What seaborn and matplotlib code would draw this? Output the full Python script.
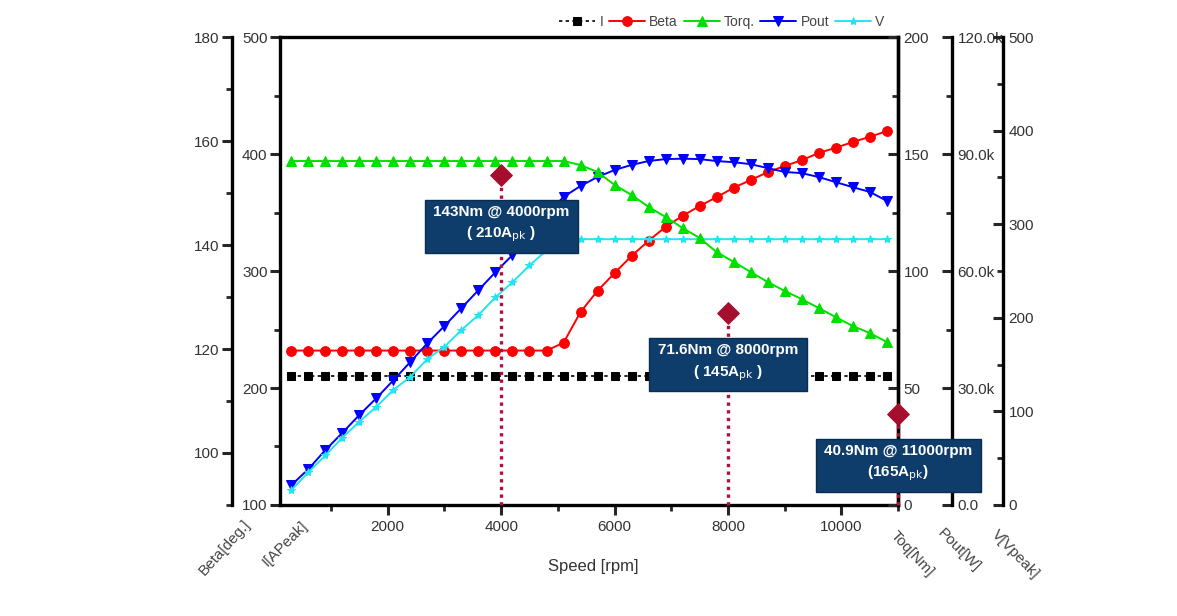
import pandas as pd
import seaborn as sns
import matplotlib.pyplot as plt
from matplotlib.ticker import MultipleLocator, FuncFormatter

# Kennlinien (Drehzahl in rpm)
speed = [300, 600, 900, 1200, 1500, 1800, 2100, 2400, 2700, 3000, 3300, 3600,
         3900, 4200, 4500, 4800, 5100, 5400, 5700, 6000, 6300, 6600, 6900, 7200,
         7500, 7800, 8100, 8400, 8700, 9000, 9300, 9600, 9900, 10200, 10500, 10800]
current = [210, 210, 210, 210, 210, 210, 210, 210, 210, 210, 210, 210,
           210, 210, 210, 210, 210, 210, 210, 210, 210, 210, 210, 210,
           210, 210, 210, 210, 210, 210, 210, 210, 210, 210, 210, 210]
beta = [119.7, 119.7, 119.7, 119.7, 119.7, 119.7, 119.7, 119.7, 119.7, 119.7, 119.7, 119.7,
        119.7, 119.7, 119.7, 119.7, 121.2, 127.1, 131.2, 134.6, 137.9, 140.8, 143.5, 145.6,
        147.5, 149.2, 151.0, 152.5, 154.0, 155.2, 156.3, 157.7, 158.7, 159.8, 160.8, 161.9]
torque = [147, 147, 147, 147, 147, 147, 147, 147, 147, 147, 147, 147,
          147, 147, 147, 147, 147, 145.3, 142.3, 136.8, 132.5, 127.4, 123.1, 118.4,
          114.1, 108.1, 103.9, 99.6, 95.3, 91.5, 88.0, 84.2, 80.3, 76.5, 73.5, 69.7]
pout = [5100, 9200, 14100, 18500, 23100, 27400, 32000, 36700, 41500, 45900, 50500, 55100,
        59700, 64100, 69000, 74400, 79000, 81800, 84100, 85900, 87200, 88200, 88700, 88800,
        88700, 88200, 87900, 87400, 86400, 85400, 85100, 84100, 82800, 81500, 80300, 78000]
voltage = [16, 35, 53, 72, 89, 105, 123, 137, 156, 169, 187, 203,
           222, 238, 256, 272, 284, 284, 284, 284, 284, 284, 284, 284,
           284, 284, 284, 284, 284, 284, 284, 284, 284, 284, 284, 284]

# Betriebspunkte
pt_speed = [4000, 8000, 11000]
pt_torque = [141, 82, 39]
pt_text = ['143Nm @ 4000rpm\n( 210A$_{\\mathrm{pk}}$ )',
           '71.6Nm @ 8000rpm\n( 145A$_{\\mathrm{pk}}$ )',
           '40.9Nm @ 11000rpm\n(165A$_{\\mathrm{pk}}$)']

sns.set_theme(style='ticks', rc={'axes.linewidth': 2.4, 'xtick.major.width': 2.2,
                                 'ytick.major.width': 2.2, 'xtick.minor.width': 2.0,
                                 'ytick.minor.width': 2.0, 'axes.edgecolor': 'black'})
plt.rcParams['font.family'] = ['Liberation Sans', 'DejaVu Sans']

fig = plt.figure(figsize=(11.77, 6.16), dpi=100)
ax = fig.add_axes([0.2379, 0.1802, 0.5251, 0.7597])
ax_beta = ax.twinx()
ax_pout = ax.twinx()
ax_v = ax.twinx()
ax_torq = ax.twinx()

lw = 1.4
ms = 6
sns.lineplot(x=speed, y=current, ax=ax, color='black', marker='s', markersize=ms,
             mec='black', lw=1.2, linestyle=(0, (2, 2)), label='I', legend=False)
sns.lineplot(x=speed, y=beta, ax=ax_beta, color='#ff0000', marker='o', markersize=ms + 1,
             mec='#ff0000', lw=lw, label='Beta', legend=False)
sns.lineplot(x=speed, y=torque, ax=ax_torq, color='#00e000', marker='^', markersize=ms + 1,
             mec='#00e000', lw=lw, label='Torq.', legend=False)
sns.lineplot(x=speed, y=pout, ax=ax_pout, color='#0000ff', marker='v', markersize=ms + 1,
             mec='#0000ff', lw=lw, label='Pout', legend=False)
sns.lineplot(x=speed, y=voltage, ax=ax_v, color='#22e5f0', marker='*', markersize=ms,
             mec='#22e5f0', lw=lw, label='V', legend=False)

# Achsen
ax.set_xlim(100, 11000)
ax.set_ylim(100, 500)
ax_beta.set_ylim(90, 180)
ax_torq.set_ylim(0, 200)
ax_pout.set_ylim(0, 120000)
ax_v.set_ylim(0, 500)

ax.xaxis.set_major_locator(MultipleLocator(2000))
ax.xaxis.set_minor_locator(MultipleLocator(1000))
ax.yaxis.set_major_locator(MultipleLocator(100))
ax.yaxis.set_minor_locator(MultipleLocator(50))
ax_beta.yaxis.set_major_locator(MultipleLocator(20))
ax_beta.yaxis.set_minor_locator(MultipleLocator(10))
ax_torq.yaxis.set_major_locator(MultipleLocator(50))
ax_torq.yaxis.set_minor_locator(MultipleLocator(25))
ax_pout.yaxis.set_major_locator(MultipleLocator(30000))
ax_pout.yaxis.set_minor_locator(MultipleLocator(15000))
ax_pout.yaxis.set_major_formatter(FuncFormatter(lambda v, p: '0.0' if v == 0 else f'{v / 1000:.1f}k'))
ax_v.yaxis.set_major_locator(MultipleLocator(100))
ax_v.yaxis.set_minor_locator(MultipleLocator(50))

for a in [ax_beta, ax_torq, ax_pout, ax_v]:
    for s in ['top', 'bottom', 'left', 'right']:
        a.spines[s].set_visible(False)

ax_beta.spines['left'].set_visible(True)
ax_beta.spines['left'].set_position(('axes', -0.078))
ax_beta.yaxis.set_ticks_position('left')
ax_beta.yaxis.set_label_position('left')
ax_torq.spines['right'].set_visible(True)
ax_pout.spines['right'].set_visible(True)
ax_pout.spines['right'].set_position(('axes', 1.087))
ax_v.spines['right'].set_visible(True)
ax_v.spines['right'].set_position(('axes', 1.17))

ax.tick_params(axis='both', which='major', direction='out', length=7, labelsize=11, labelcolor='#333333')
ax.tick_params(axis='both', which='minor', direction='out', length=4)
ax.tick_params(axis='y', pad=2)
ax_beta.tick_params(which='major', direction='out', length=7, labelsize=11, labelcolor='#333333', pad=2)
ax_beta.tick_params(which='minor', direction='out', length=4)
for a in [ax_torq, ax_pout, ax_v]:
    a.tick_params(which='major', direction='in', length=7, labelsize=11, labelcolor='#333333', pad=4)
    a.tick_params(which='minor', direction='in', length=4)

# Betriebspunkte mit Kästchen
ax_torq.vlines(pt_speed, 0, pt_torque, colors='#b0103a', linestyles=(0, (1, 1.3)), lw=2.4,
               clip_on=False, zorder=4)
sns.scatterplot(x=pt_speed, y=pt_torque, ax=ax_torq, marker='D', s=120, color='#a50f2d',
                edgecolor='#a50f2d', zorder=5, clip_on=False, legend=False)
for x, y, t in zip(pt_speed, pt_torque, pt_text):
    ax_torq.annotate(t, xy=(x, y), xytext=(0, -30), textcoords='offset pixels',
                     ha='center', va='top', multialignment='center', linespacing=1.45,
                     color='white', fontsize=11, fontweight='bold', zorder=6,
                     annotation_clip=False,
                     bbox=dict(boxstyle='square,pad=0.55', fc='#0e3d6b', ec='#0a2c50', lw=1))

# Legende oben
handles = [ax.lines[0], ax_beta.lines[0], ax_torq.lines[0], ax_pout.lines[0], ax_v.lines[0]]
fig.legend(handles, ['I', 'Beta', 'Torq.', 'Pout', 'V'], loc='center right',
           bbox_to_anchor=(0.762, 0.964), ncol=5, frameon=False, fontsize=10,
           handlelength=2.6, handletextpad=0.3, columnspacing=0.4, labelcolor='#444444')

# Achsentitel
lab = dict(fontsize=11, color='#444444', ha='center', va='center')
fig.text(225 / 1177, 1 - 547 / 616, 'Beta[deg.]', rotation=48, **lab)
fig.text(285 / 1177, 1 - 544 / 616, 'I[APeak]', rotation=45, **lab)
fig.text(593 / 1177, 1 - 567 / 616, 'Speed [rpm]', fontsize=12, color='#333333', ha='center', va='center')
fig.text(912 / 1177, 1 - 554 / 616, 'Toq[Nm]', rotation=-47, **lab)
fig.text(959 / 1177, 1 - 550 / 616, 'Pout[W]', rotation=-45, **lab)
fig.text(1015 / 1177, 1 - 554 / 616, 'V[Vpeak]', rotation=-46, **lab)

fig.savefig('out.png', dpi=100)
